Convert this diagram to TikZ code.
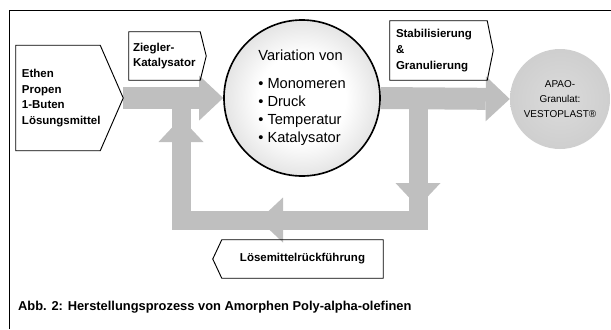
\documentclass[tikz,border=0pt]{standalone}
\usepackage{fontspec}
\setmainfont{Liberation Sans}
\usetikzlibrary{arrows.meta,calc,backgrounds}

\pgfdeclareradialshading{mainball}{\pgfpoint{0cm}{0cm}}{color(0bp)=(white); color(14bp)=(white); color(35bp)=(black!20); color(50bp)=(black!48)}
\pgfdeclareradialshading{apaoball}{\pgfpoint{0cm}{0cm}}{color(0bp)=(black!14); color(30bp)=(black!20); color(50bp)=(black!34)}

\tikzset{
  band/.style={draw=black!25, line width=0.66cm},
  loopband/.style={draw=black!25, line width=0.57cm, line join=miter},
  head/.style={-{Triangle[width=1.35cm,length=0.72cm,line width=0pt]}},
  txtbox/.style={inner ysep=0pt, align=left, font=\fontsize{9.8}{13.3}\selectfont\bfseries},
  outline/.style={draw=black, line width=0.8pt, line join=miter},
}

\begin{document}
\begin{tikzpicture}[x=0.03cm, y=-0.03cm]
        \useasboundingbox (0,0) rectangle (611,329);
        \draw[line width=0.8pt] (9,329) -- (9,10) -- (611,10);

        \node[txtbox, text width=2.16cm, inner xsep=0.18cm, minimum height=3.15cm] (in) at (58,98) {Ethen\\Propen\\1-Buten\\Lösungsmittel};
        \draw[outline] (in.north west) -- (in.north east) -- ($(in.east)+(23,0)$) -- (in.south east) -- (in.south west) -- cycle;

        \node[txtbox, text width=1.89cm, inner xsep=0.12cm, minimum height=1.44cm] (zieg) at (164.5,56) {Ziegler-\\Katalysator};
        \draw[outline] (zieg.north west) -- (zieg.north east) -- ($(zieg.east)+(6,0)$) -- (zieg.south east) -- (zieg.south west) -- cycle;

        \node[txtbox, text width=2.55cm, inner xsep=0.18cm, minimum height=1.77cm] (stab) at (438.5,50.5) {Stabilisierung\\\&\\Granulierung};
        \draw[outline] (stab.north west) -- (stab.north east) -- ($(stab.east)+(6,0)$) -- (stab.south east) -- (stab.south west) -- cycle;

        \node[txtbox, align=center, minimum width=4.83cm, minimum height=1.14cm, inner xsep=0pt] (loes) at (302.5,259) {Lösemittelrückführung};
        \draw[outline] (loes.north east) -- (loes.north west) -- ($(loes.west)+(-9,0)$) -- (loes.south west) -- (loes.south east) -- cycle;

        \node[circle, draw=black, line width=1.4pt, shading=mainball, shade, minimum size=4.68cm, inner sep=0pt, align=left, font=\fontsize{12.5}{15.5}\selectfont] (main) at (302,98) {Variation von\\[8pt]• Monomeren\\• Druck\\• Temperatur\\• Katalysator};
        \node[circle, shading=apaoball, shade, minimum size=3cm, inner sep=0pt, align=center, font=\fontsize{8.5}{13}\selectfont] (apao) at (560,99) {APAO-\\Granulat:\\VESTOPLAST®};

        \node[anchor=west, font=\fontsize{11}{13}\selectfont\bfseries] (cap) at (14,307) {Abb. 2: Herstellungsprozess von Amorphen Poly-alpha-olefinen};

        \begin{scope}[on background layer]
            \coordinate (split) at (418,98);
            \coordinate (merge) at (181,98);
            \coordinate (rb) at (418,220);
            \coordinate (lb) at (181,220);
            \coordinate (upTip) at (181,118);
            \coordinate (downTip) at (418,207);
            \coordinate (leftTip) at (259,220);
            \draw[band, head] ($(in.east)+(23,0)$) -- (main.west);
            \draw[band, head] (main.east) -- (apao.west);
            \draw[loopband] (split) -- (rb) -- (lb) -- (merge);
            \draw[loopband, head] (lb) -- (upTip);
            \draw[loopband, head] (split) -- (downTip);
            \draw[loopband, head] (rb) -- (leftTip);
        \end{scope}
\end{tikzpicture}
\end{document}
